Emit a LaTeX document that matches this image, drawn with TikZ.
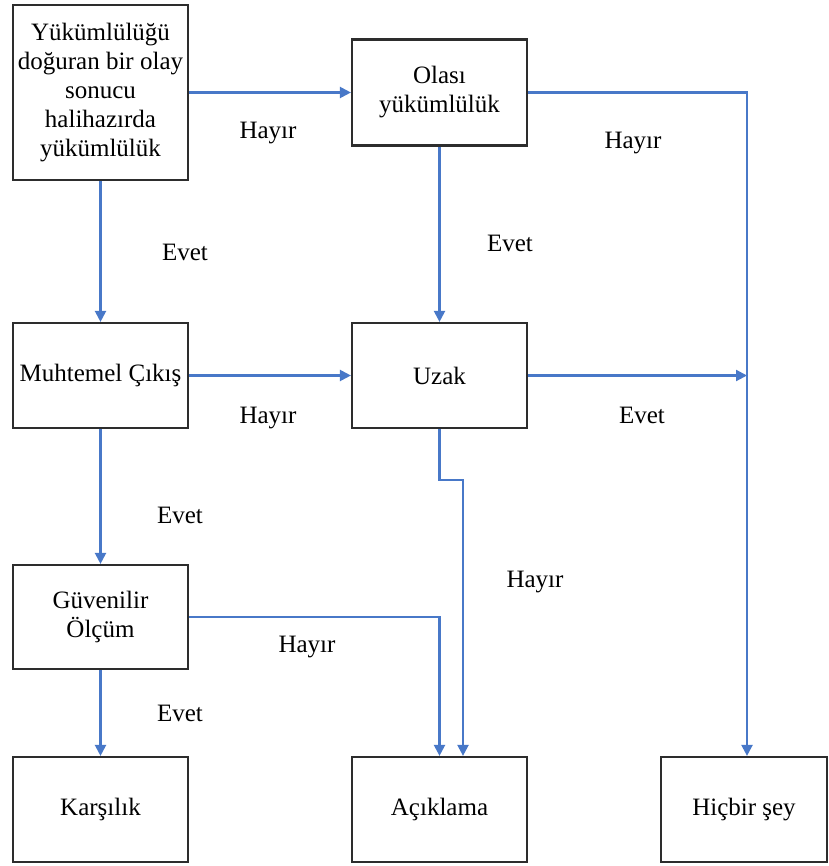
\documentclass[tikz,border=0pt]{standalone}
\usepackage{fontspec}
\setmainfont{LiberationSerif}[Extension=.ttf, UprightFont=*-Regular, BoldFont=*-Bold]
\usetikzlibrary{arrows.meta}
\definecolor{flowblue}{RGB}{72,120,200}
\definecolor{boxgray}{RGB}{45,45,45}

\begin{document}
\begin{tikzpicture}[x=1pt, y=1pt, font=\fontsize{25}{29}\selectfont,
  block/.style={draw=boxgray, line width=2.2pt, fill=white, align=center, minimum width=175pt, minimum height=105pt, inner sep=2pt},
  flow/.style={draw=flowblue, line width=2.2pt, -{Triangle[width=11pt, length=11pt]}}]

  \useasboundingbox (0,0) rectangle (828,-866);

  % First column
  \node[block, minimum height=175pt] (Q1) at (100.5,-92.5) {Yükümlülüğü\\doğuran bir olay\\sonucu\\halihazırda\\yükümlülük};
  \node[block, below of=Q1, node distance=283pt] (M1) {Muhtemel Çıkış};
  \node[block, below of=M1, node distance=241.5pt, minimum height=104pt] (G1) {Güvenilir\\Ölçüm};
  \node[block, below of=G1, node distance=192.5pt] (K1) {Karşılık};

  % Second column
  \node[block, right of=Q1, node distance=339pt, minimum height=106pt] (O2) {Olası\\yükümlülük};
  \node[block, right of=M1, node distance=339pt] (U2) {Uzak};
  \node[block, right of=K1, node distance=339pt] (A2) {Açıklama};

  % Third column
  \node[block, right of=A2, node distance=304.5pt, minimum width=166pt] (H3) {Hiçbir şey};

  % Corners
  \coordinate (R1) at (747,-92.5);
  \coordinate (J1) at (463,-480);

  % Vertical arrows
  \draw[flow] (Q1) -- (M1);
  \draw[flow] (M1) -- (G1);
  \draw[flow] (G1) -- (K1);
  \draw[flow] (O2) -- (U2);
  \draw[flow] (U2.south) |- (J1) -- (J1 |- A2.north);

  % Horizontal arrows
  \draw[flow] (Q1.east |- O2.west) -- (O2.west);
  \draw[flow] (M1) -- (U2);
  \draw[flow] (U2.east) -- (U2.east -| R1);
  \draw[flow] (O2.east) -- (R1) -- (R1 |- H3.north);
  \draw[flow] (G1.east) -| (A2.north);

  % Labels
  \node (L1) at (268,-133) {Hayır};
  \node (L2) at (633,-143) {Hayır};
  \node (L3) at (185,-252) {Evet};
  \node (L4) at (510,-243) {Evet};
  \node (L5) at (268,-418) {Hayır};
  \node (L6) at (642,-415) {Evet};
  \node (L7) at (180,-515) {Evet};
  \node (L8) at (535,-582) {Hayır};
  \node (L9) at (307,-647) {Hayır};
  \node (L10) at (180,-713) {Evet};

\end{tikzpicture}
\end{document}
